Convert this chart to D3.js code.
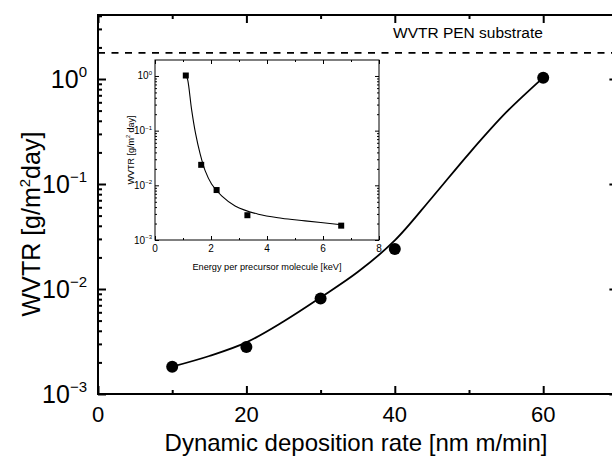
<!DOCTYPE html>
<html><head><meta charset="utf-8">
<script src="https://cdn.jsdelivr.net/npm/d3@7"></script>
<style>body{margin:0;background:#fff} svg{display:block} text{font-family:"Liberation Sans",Arial,sans-serif;fill:#000}</style>
</head><body>
<svg id="c" width="612" height="460"></svg>
<script>
// ---- data ----
const rate = [10, 20, 30, 40, 60];
const wvtr = [0.00182, 0.0028, 0.0081, 0.024, 1.03];
const fitRate = [10, 15, 20, 25, 30, 35, 40, 45, 50, 55, 60];
const fitWvtr = [0.00182, 0.0023, 0.0031, 0.0049, 0.0083, 0.0145, 0.029, 0.074, 0.195, 0.48, 1.03];
const penWvtr = 1.77;
const penLabel = "WVTR PEN substrate";
const xTicks = [0, 20, 40, 60];
const xMinor = [10, 30, 50, 70];
const yTickExp = [0, -1, -2, -3];

const energy = [1.1, 1.65, 2.2, 3.3, 6.65];
const insetWvtr = [1.02, 0.0237, 0.0082, 0.00284, 0.00183];
const insetFitE = [1.12, 1.17, 1.31, 1.45, 1.61, 1.79, 2.02, 2.38, 2.86, 3.69, 4.52, 5.36, 6.65];
const insetFitW = [1.0, 0.84, 0.237, 0.088, 0.038, 0.0186, 0.0106, 0.0064, 0.0042, 0.00296, 0.0025, 0.00224, 0.0019];
const insetXTicks = [0, 2, 4, 6, 8];
const insetXMinor = [1, 3, 5, 7];
const insetYTickExp = [0, -1, -2, -3];

// ---- layout ----
const svg = d3.select("#c");
const M = {l: 98, r: 617.4, t: 15, b: 394};
const x = d3.scaleLinear().domain([0, 70]).range([M.l, M.r]);
const y = d3.scaleLog().domain([1e-3, 4.07]).range([M.b, M.t]);

function minorLog(sc) {
  const [a, b] = sc.domain();
  const out = [];
  for (let e = Math.floor(Math.log10(a)); e <= Math.ceil(Math.log10(b)); e++)
    for (let m = 2; m <= 9; m++) { const v = m * Math.pow(10, e); if (v >= a && v <= b) out.push(v); }
  return out;
}
const majors = yTickExp.map(e => Math.pow(10, e));

function drawAxes(g, xs, ys, xt, xm, ym, yM, big, small, sw) {
  const [x0, x1] = xs.range(), [y0, y1] = ys.range();
  g.append("g").attr("transform", `translate(0,${y0})`)
    .call(d3.axisBottom(xs).tickValues(xt).tickSize(-big).tickFormat(""));
  g.append("g").attr("transform", `translate(0,${y0})`)
    .call(d3.axisBottom(xs).tickValues(xm).tickSize(-small).tickFormat(""));
  g.append("g").attr("transform", `translate(0,${y1})`)
    .call(d3.axisTop(xs).tickValues(xt).tickSize(-big).tickFormat(""));
  g.append("g").attr("transform", `translate(0,${y1})`)
    .call(d3.axisTop(xs).tickValues(xm).tickSize(-small).tickFormat(""));
  g.append("g").attr("transform", `translate(${x0},0)`)
    .call(d3.axisLeft(ys).tickValues(yM).tickSize(-big).tickFormat(""));
  g.append("g").attr("transform", `translate(${x0},0)`)
    .call(d3.axisLeft(ys).tickValues(ym).tickSize(-small).tickFormat(""));
  g.append("g").attr("transform", `translate(${x1},0)`)
    .call(d3.axisRight(ys).tickValues(yM).tickSize(-big).tickFormat(""));
  g.append("g").attr("transform", `translate(${x1},0)`)
    .call(d3.axisRight(ys).tickValues(ym).tickSize(-small).tickFormat(""));
  g.selectAll(".domain").remove();
  g.selectAll(".tick line").attr("stroke", "#000").attr("stroke-width", sw);
  g.append("rect").attr("x", x0).attr("y", y1).attr("width", x1 - x0).attr("height", y0 - y1)
    .attr("fill", "none").attr("stroke", "#000").attr("stroke-width", sw);
}

// main axes
const gMain = svg.append("g");
drawAxes(gMain, x, y, xTicks, xMinor, minorLog(y), majors, 8, 4, 2);

// main tick labels
xTicks.forEach(v => svg.append("text").attr("x", x(v)).attr("y", 422)
  .attr("text-anchor", "middle").attr("font-size", 22).text(v));
yTickExp.forEach(e => {
  const t = svg.append("text").attr("x", 87).attr("y", y(Math.pow(10, e)) + 9)
    .attr("text-anchor", "end").attr("font-size", 25);
  t.append("tspan").text("10");
  t.append("tspan").attr("font-size", 15).attr("dy", -11).text(String(e).replace("-", "\u2212"));
});

// axis titles
svg.append("text").attr("x", 356).attr("y", 451).attr("text-anchor", "middle")
  .attr("font-size", 24).text("Dynamic deposition rate [nm m/min]");
const yt = svg.append("text").attr("transform", "translate(40,224) rotate(-90)")
  .attr("text-anchor", "middle").attr("font-size", 25);
yt.append("tspan").text("WVTR [g/m");
yt.append("tspan").attr("font-size", 15).attr("dy", -10).text("2");
yt.append("tspan").attr("dy", 10).text("day]");

// PEN reference line
svg.append("line").attr("x1", M.l).attr("x2", M.r).attr("y1", y(penWvtr)).attr("y2", y(penWvtr))
  .attr("stroke", "#000").attr("stroke-width", 1.8).attr("stroke-dasharray", "7,6.5");
svg.append("text").attr("x", 393).attr("y", 38).attr("font-size", 15.5).text(penLabel);

// main fit & points
const line = d3.line().x((d, i) => x(fitRate[i])).y(d => y(d)).curve(d3.curveCatmullRom);
svg.append("path").attr("d", line(fitWvtr)).attr("fill", "none").attr("stroke", "#000").attr("stroke-width", 1.8);
svg.selectAll("circle.pt").data(wvtr).enter().append("circle")
  .attr("cx", (d, i) => x(rate[i])).attr("cy", d => y(d)).attr("r", 6).attr("fill", "#000");

// ---- inset ----
const ix = d3.scaleLinear().domain([0, 8]).range([155, 379]);
const iy = d3.scaleLog().domain([1e-3, 1.96]).range([240, 60]);
const gIn = svg.append("g");
gIn.append("rect").attr("x", 155).attr("y", 60).attr("width", 224).attr("height", 180).attr("fill", "#fff");
drawAxes(gIn, ix, iy, insetXTicks, insetXMinor, minorLog(iy), insetYTickExp.map(e => Math.pow(10, e)), 4, 2, 1);

insetXTicks.forEach(v => gIn.append("text").attr("x", ix(v)).attr("y", 252)
  .attr("text-anchor", "middle").attr("font-size", 10).text(v));
insetYTickExp.forEach(e => {
  const t = gIn.append("text").attr("x", 152).attr("y", iy(Math.pow(10, e)) + 3.5)
    .attr("text-anchor", "end").attr("font-size", 10);
  t.append("tspan").text("10");
  t.append("tspan").attr("font-size", 6).attr("dy", -4.5).text(String(e).replace("-", "\u2212"));
});
gIn.append("text").attr("x", 267).attr("y", 270).attr("text-anchor", "middle")
  .attr("font-size", 9.2).text("Energy per precursor molecule [keV]");
const iyt = gIn.append("text").attr("transform", "translate(134,150) rotate(-90)")
  .attr("text-anchor", "middle").attr("font-size", 9);
iyt.append("tspan").text("WVTR [g/m");
iyt.append("tspan").attr("font-size", 5.5).attr("dy", -4).text("2");
iyt.append("tspan").attr("dy", 4).text(" day]");

const iline = d3.line().x((d, i) => ix(insetFitE[i])).y(d => iy(d)).curve(d3.curveCatmullRom);
gIn.append("path").attr("d", iline(insetFitW)).attr("fill", "none").attr("stroke", "#000").attr("stroke-width", 1.1);
gIn.selectAll("rect.pt").data(insetWvtr).enter().append("rect")
  .attr("x", (d, i) => ix(energy[i]) - 3).attr("y", d => iy(d) - 3)
  .attr("width", 6).attr("height", 6).attr("fill", "#000");
</script>
</body></html>
